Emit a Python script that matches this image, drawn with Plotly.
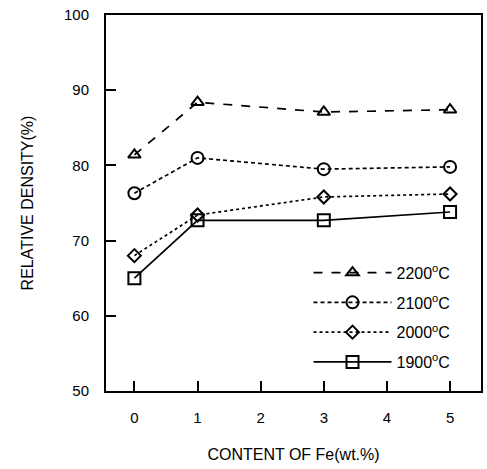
import plotly.graph_objects as go

fe_content = [0, 1, 3, 5]
series_names = ["2200<sup>o</sup>C", "2100<sup>o</sup>C", "2000<sup>o</sup>C", "1900<sup>o</sup>C"]
density_2200 = [81.4, 88.4, 87.1, 87.4]
density_2100 = [76.3, 81.0, 79.5, 79.8]
density_2000 = [68.0, 73.4, 75.8, 76.2]
density_1900 = [65.0, 72.7, 72.7, 73.8]

series_values = [density_2200, density_2100, density_2000, density_1900]
symbols = ["triangle-up-open", "circle-open", "diamond-open", "square-open"]
dashes = ["dash", "4px,3px", "dot", "solid"]
sizes = [11, 12, 10, 12]

fig = go.Figure()
for i, (name, vals) in enumerate(zip(series_names, series_values)):
    fig.add_trace(go.Scatter(
        x=fe_content, y=vals, name=name, mode="lines+markers",
        legendgroup=f"g{i}",
        line=dict(color="black", width=1.7, dash=dashes[i]),
        marker=dict(symbol=symbols[i], size=sizes[i], color="black",
                    line=dict(color="black", width=2)),
    ))

fam = "Liberation Sans, Arial, sans-serif"

fig.update_layout(
    width=487, height=469,
    margin=dict(l=106, r=4, t=15, b=78),
    paper_bgcolor="white", plot_bgcolor="white",
    font=dict(family=fam, size=15, color="black"),
    showlegend=True,
    legend=dict(x=0.54, y=0.36, xanchor="left", yanchor="top",
                bgcolor="rgba(0,0,0,0)", itemwidth=78,
                tracegroupgap=6, traceorder="grouped",
                font=dict(family=fam, size=16, color="black")),
    xaxis=dict(range=[-0.45, 5.49], tickvals=[0, 1, 2, 3, 4, 5],
               ticks="inside", ticklen=10, tickwidth=1.5, tickcolor="black",
               ticklabelstandoff=12,
               showline=True, linecolor="black", linewidth=2, mirror=True,
               showgrid=False, zeroline=False,
               title=dict(text="CONTENT OF Fe(wt.%)", font=dict(size=16), standoff=24)),
    yaxis=dict(range=[50, 100], tickvals=[50, 60, 70, 80, 90, 100],
               ticks="inside", ticklen=10, tickwidth=1.5, tickcolor="black",
               ticklabelstandoff=12,
               showline=True, linecolor="black", linewidth=2, mirror=True,
               showgrid=False, zeroline=False,
               title=dict(text="RELATIVE DENSITY(%)", font=dict(size=16), standoff=26)),
)

fig.write_html("out.html")
